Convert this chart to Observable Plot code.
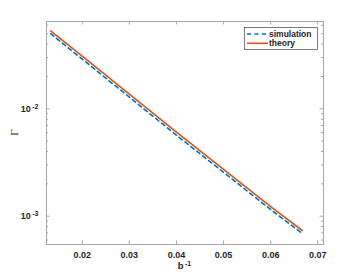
<!DOCTYPE html>
<html><head><meta charset="utf-8">
<script src="https://cdn.jsdelivr.net/npm/d3@7"></script>
<script src="https://cdn.jsdelivr.net/npm/@observablehq/plot@0.6"></script>
<style>body{margin:0;background:#fff}</style>
</head><body><div id="chart"></div>
<script>
const invB = [0.0133, 0.02, 0.03, 0.04, 0.05, 0.06, 0.0667];
const theory = [0.0532, 0.0309, 0.01368, 0.00605, 0.00273, 0.001228, 0.000736];
const simulation = [0.0500, 0.0290, 0.01285, 0.00567, 0.00256, 0.001152, 0.000690];
const xTicks = [0.02, 0.03, 0.04, 0.05, 0.06, 0.07];
const yMajor = [0.001, 0.01];
const yMinor = [0.0006, 0.0007, 0.0008, 0.0009, 0.002, 0.003, 0.004, 0.005, 0.006, 0.007, 0.008, 0.009, 0.02, 0.03, 0.04, 0.05, 0.06];
const seriesNames = ["simulation", "theory"];
const seriesColors = ["#0072BD", "#D95319"];
const seriesDash = ["4,3.5", null];

const W = 358, H = 275, mL = 46, mR = 35, mT = 21, mB = 31;
const iw = W - mL - mR, ih = H - mT - mB;
const axisColor = "#a6a6a6";
const textColor = "#262626";

const rows = [];
seriesNames.forEach((s, k) => {
  const vals = k === 0 ? simulation : theory;
  invB.forEach((x, i) => rows.push({series: s, x, y: vals[i]}));
});

const chart = Plot.plot({
  width: W, height: H,
  marginLeft: mL, marginRight: mR, marginTop: mT, marginBottom: mB,
  style: {fontFamily: "'Liberation Sans', Arial, sans-serif", fontSize: "9px", color: textColor, background: "#fff"},
  x: {domain: [0.01242, 0.07121]},
  y: {type: "log", domain: [0.000545, 0.06499]},
  marks: [
    Plot.frame({stroke: axisColor, strokeWidth: 1}),
    Plot.ruleX(xTicks, {x: d => d, insetTop: ih - 3.5, stroke: axisColor}),
    Plot.ruleX(xTicks, {x: d => d, insetBottom: ih - 3.5, stroke: axisColor}),
    Plot.ruleY(yMajor, {y: d => d, insetRight: iw - 3.5, stroke: axisColor}),
    Plot.ruleY(yMajor, {y: d => d, insetLeft: iw - 3.5, stroke: axisColor}),
    Plot.ruleY(yMinor, {y: d => d, insetRight: iw - 2, stroke: axisColor}),
    Plot.ruleY(yMinor, {y: d => d, insetLeft: iw - 2, stroke: axisColor}),
    Plot.axisX({ticks: xTicks, tickSize: 0, tickPadding: 7, tickFormat: d3.format(".2f"), label: null, fill: textColor, fontWeight: "bold"}),
    Plot.axisY({ticks: yMajor, tickSize: 0, tickPadding: 8, tickFormat: d => String(Math.round(Math.log10(d))), label: null, fill: textColor, fontWeight: "bold"}),
    Plot.line(rows.filter(d => d.series === "simulation"), {x: "x", y: "y", stroke: seriesColors[0], strokeWidth: 1.6, strokeDasharray: seriesDash[0]}),
    Plot.line(rows.filter(d => d.series === "theory"), {x: "x", y: "y", stroke: seriesColors[1], strokeWidth: 1.6})
  ]
});

const svg = d3.select(chart);
// y tick labels as 10^exp
svg.selectAll('g[aria-label="y-axis tick label"] text').each(function() {
  const t = d3.select(this);
  const exp = t.text();
  t.text("10");
  t.append("tspan").attr("dx", 1.5).attr("dy", "-0.45em").attr("font-size", "7px").text(exp);
});

// axis labels
const xl = svg.append("text")
  .attr("x", mL + iw / 2).attr("y", 269)
  .attr("text-anchor", "middle").attr("fill", textColor)
  .attr("font-size", "9.5px").attr("font-weight", "bold");
xl.append("tspan").text("b");
xl.append("tspan").attr("dx", 1.5).attr("dy", "-0.4em").attr("font-size", "7px").text("-1");

svg.append("text")
  .attr("transform", `translate(17.5,${mT + ih / 2}) rotate(-90)`)
  .attr("text-anchor", "middle").attr("fill", textColor)
  .attr("font-family", "'Liberation Serif', serif")
  .attr("font-size", "11px")
  .text("Γ");

// legend
const lg = svg.append("g").attr("transform", "translate(244.5,27.5)");
lg.append("rect").attr("width", 73).attr("height", 22).attr("fill", "#fff").attr("stroke", textColor).attr("stroke-width", 0.6);
seriesNames.forEach((s, k) => {
  const y = 6.5 + k * 9.3;
  lg.append("line").attr("x1", 2.5).attr("x2", 23.5).attr("y1", y).attr("y2", y)
    .attr("stroke", seriesColors[k]).attr("stroke-width", 1.6)
    .attr("stroke-dasharray", seriesDash[k]);
  lg.append("text").attr("x", 24.5).attr("y", y + 3).attr("fill", textColor)
    .attr("text-anchor", "start")
    .attr("font-size", "8.5px").attr("font-weight", "bold").text(s);
});

document.getElementById("chart").appendChild(chart);
</script>
</body></html>
